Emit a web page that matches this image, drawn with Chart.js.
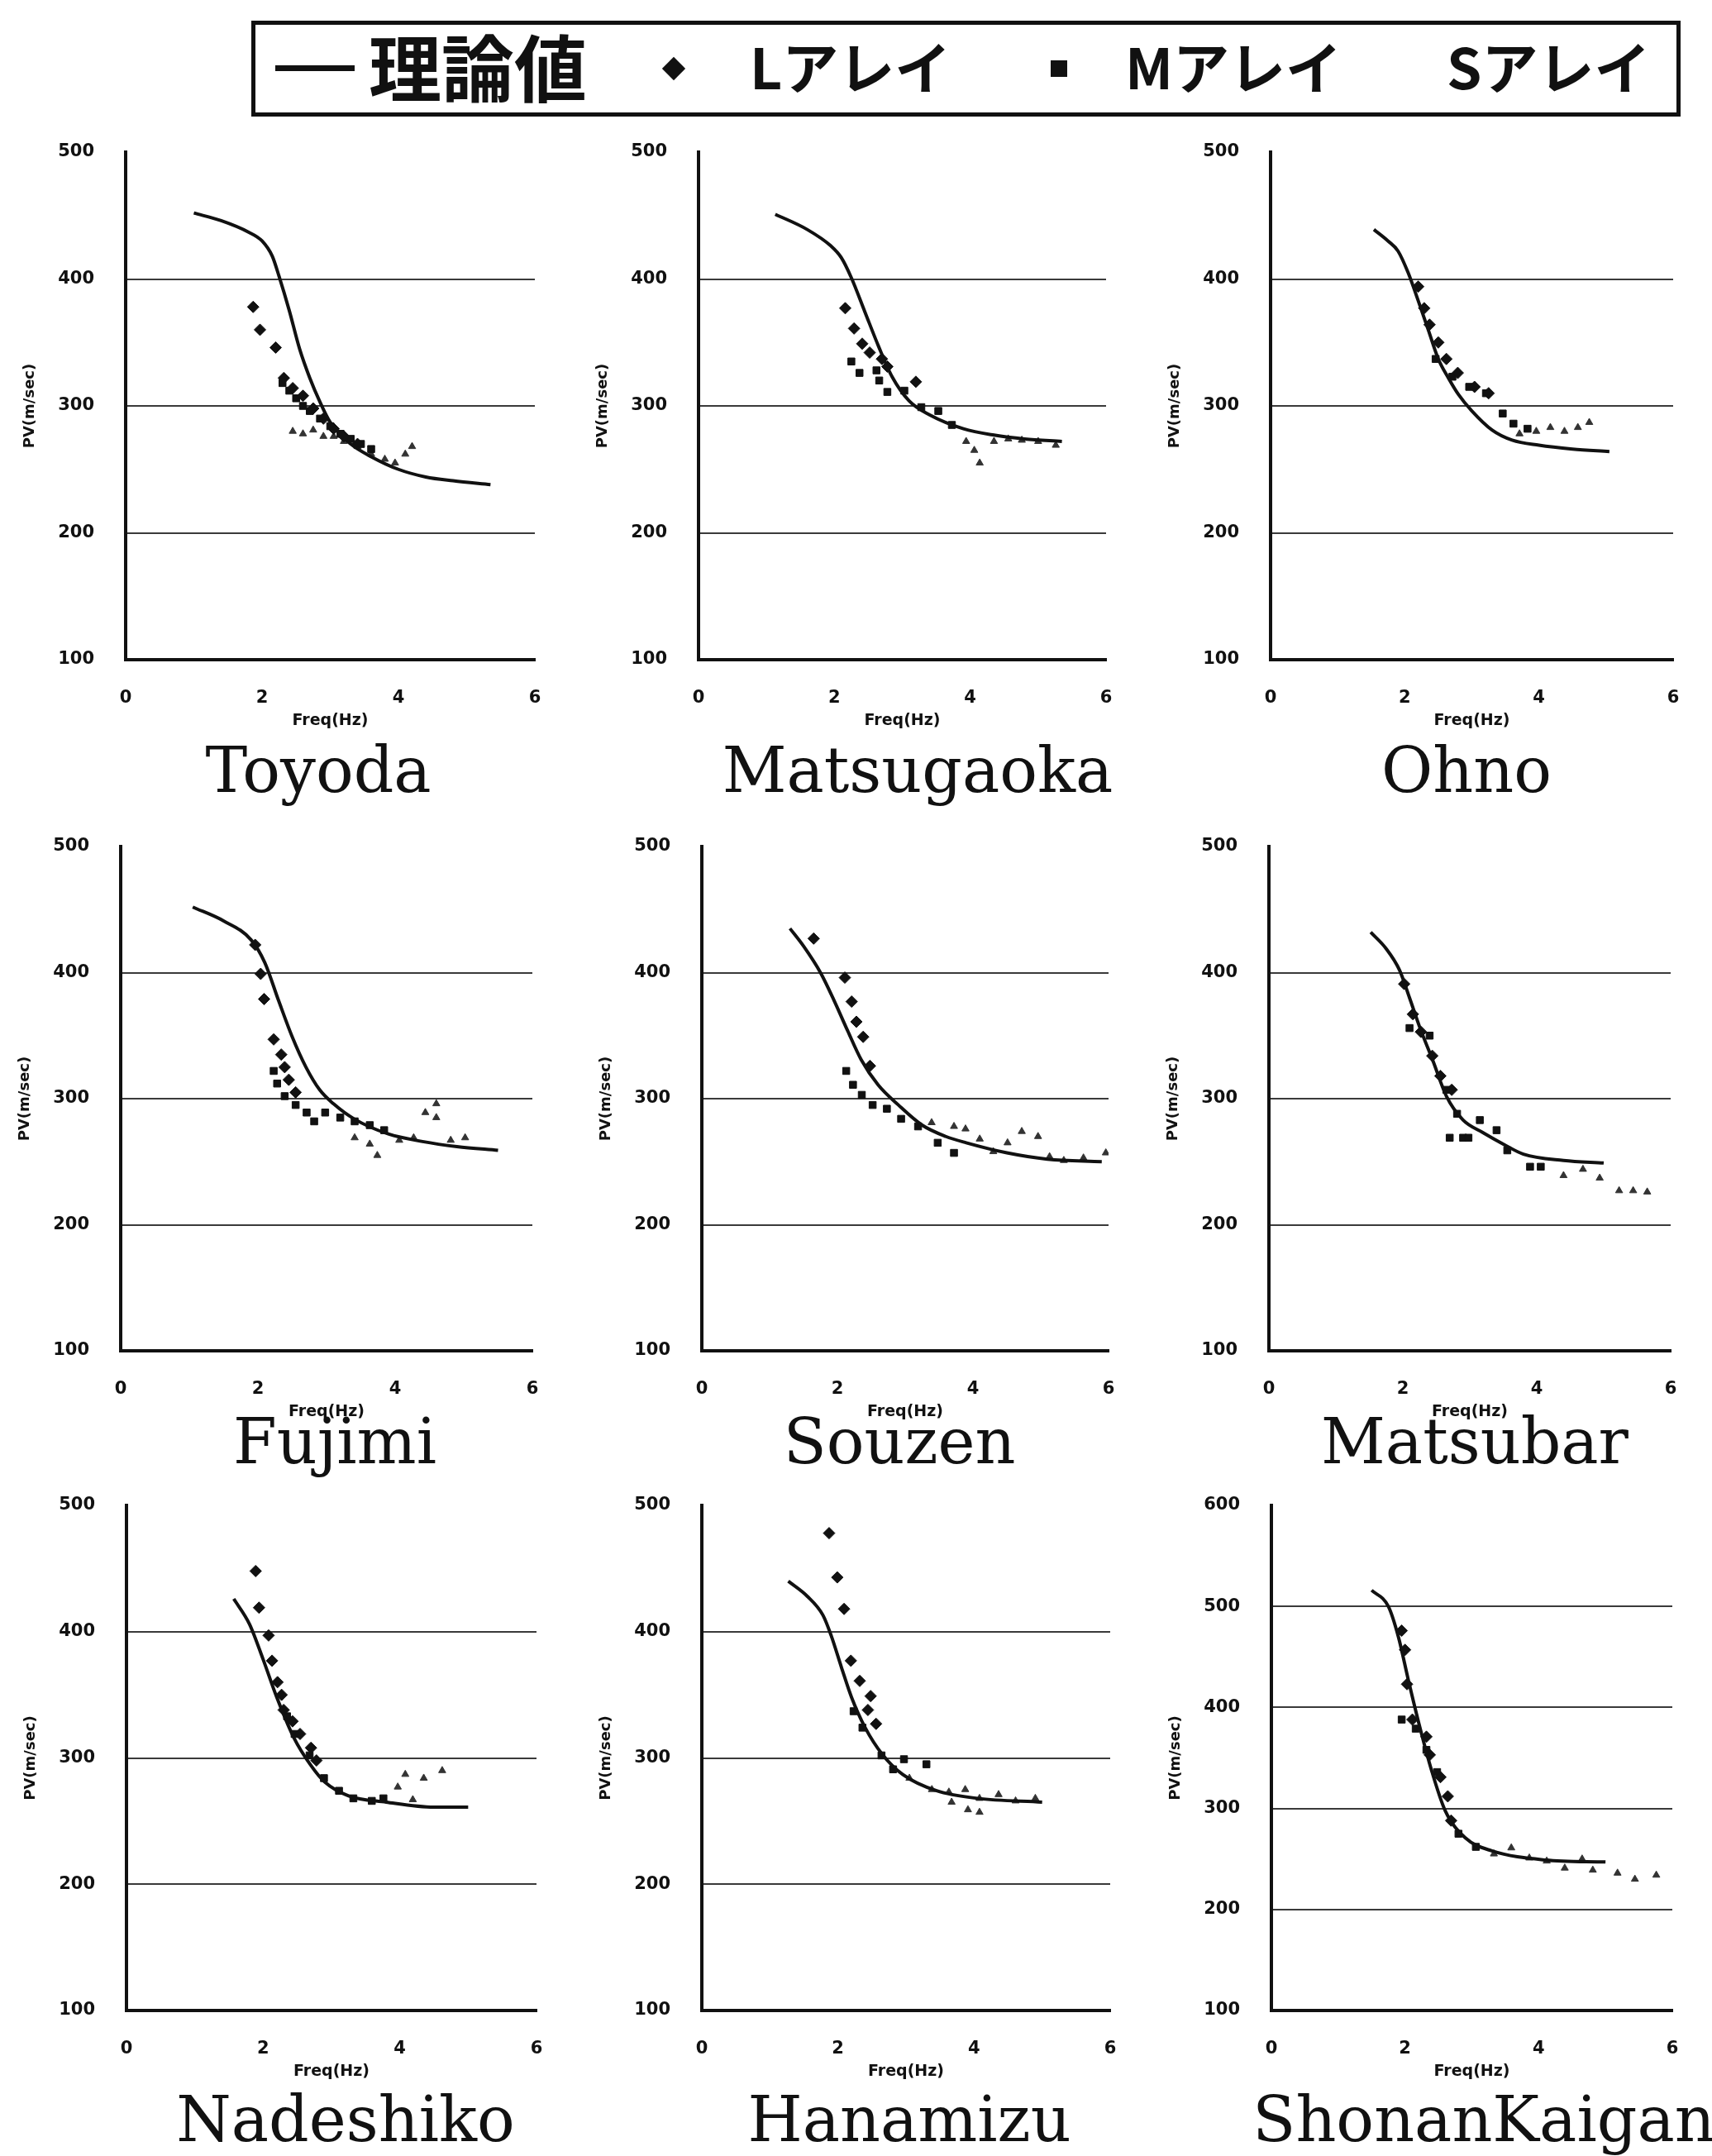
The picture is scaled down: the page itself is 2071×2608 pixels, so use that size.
<!DOCTYPE html>
<html>
<head>
<meta charset="utf-8">
<script src="https://cdn.jsdelivr.net/npm/chart.js@4/dist/chart.umd.min.js"></script>
<style>
html, body { margin: 0; padding: 0; background: #fff; }
#page { position: relative; width: 2071px; height: 2608px; overflow: hidden; background: #fff; }
#page canvas { position: absolute; }
.name { position: absolute; font-family: "DejaVu Serif", serif; font-size: 76px; line-height: 76px; color: #111; white-space: nowrap; transform: translateX(-50%); }
#legend { position: absolute; left: 304px; top: 25px; width: 1719px; height: 106px; border: 5px solid #111; }
.lg { position: absolute; font-family: "Noto Sans CJK JP", sans-serif; font-weight: bold; color: #111; white-space: nowrap; }
</style>
</head>
<body>
<div id="page">
  <div id="legend"></div>
  <div style="position:absolute;left:333px;top:79px;width:96px;height:7px;background:#111"></div>
  <div class="lg" style="left:446px;top:34px;font-size:88px;line-height:88px">理論値</div>
  <div style="position:absolute;left:805px;top:73px;width:20px;height:20px;background:#111;transform:rotate(45deg)"></div>
  <div class="lg" style="left:907px;top:45px;font-size:68px;line-height:68px">Lアレイ</div>
  <div style="position:absolute;left:1271px;top:73px;width:20px;height:20px;background:#111"></div>
  <div class="lg" style="left:1361px;top:45px;font-size:68px;line-height:68px">Mアレイ</div>
  <div class="lg" style="left:1750px;top:45px;font-size:68px;line-height:68px">Sアレイ</div>
</div>
<script>
// --- Data (Freq Hz, PV m/sec) ---
const stationNames = ['Toyoda', 'Matsugaoka', 'Ohno', 'Fujimi', 'Souzen', 'Matsubar', 'Nadeshiko', 'Hanamizu', 'ShonanKaigan'];
const xTicks = [0, 2, 4, 6];
const yTicks = [100, 200, 300, 400, 500];
const yTicksShonan = [100, 200, 300, 400, 500, 600];

const toyodaTheory = [[1.0,452],[1.4,446],[1.8,437],[2.0,430],[2.15,418],[2.25,402],[2.4,375],[2.55,345],[2.7,322],[2.85,303],[3.0,287],[3.3,270],[3.6,260],[4.0,250],[4.4,244],[4.8,241],[5.35,238]];
const toyodaL = [[1.87,378],[1.97,360],[2.2,346],[2.32,322],[2.45,314],[2.6,308],[2.75,298],[2.9,290],[3.05,282],[3.2,276],[3.4,270]];
const toyodaM = [[2.3,318],[2.4,312],[2.5,306],[2.6,300],[2.7,296],[2.85,290],[3.0,284],[3.15,278],[3.3,274],[3.45,270],[3.6,266]];
const toyodaS = [[2.45,280],[2.6,278],[2.75,281],[2.9,276],[3.05,276],[3.2,272],[3.4,268],[3.6,262],[3.8,258],[3.95,255],[4.1,262],[4.2,268]];

const matsugaokaTheory = [[1.13,451],[1.6,439],[1.95,426],[2.1,417],[2.25,401],[2.45,374],[2.65,347],[2.85,323],[3.1,304],[3.4,293],[3.9,282],[4.35,277],[4.8,274],[5.35,272]];
const matsugaokaL = [[2.16,377],[2.29,361],[2.41,349],[2.52,342],[2.7,337],[2.78,331],[3.2,319]];
const matsugaokaM = [[2.25,335],[2.37,326],[2.62,328],[2.66,320],[2.78,311],[3.03,312],[3.28,299],[3.53,296],[3.73,285]];
const matsugaokaS = [[3.94,272],[4.06,265],[4.14,255],[4.35,272],[4.56,274],[4.76,273],[5.0,272],[5.26,269]];

const ohnoTheory = [[1.54,439],[1.75,430],[1.9,422],[2.05,405],[2.2,383],[2.35,360],[2.5,337],[2.65,322],[2.8,309],[3.0,296],[3.3,281],[3.6,273],[4.0,269],[4.5,266],[5.05,264]];
const ohnoL = [[2.2,394],[2.29,377],[2.37,364],[2.5,350],[2.62,337],[2.79,326],[3.04,315],[3.25,310]];
const ohnoM = [[2.46,337],[2.71,323],[2.96,315],[3.21,310],[3.46,294],[3.62,286],[3.83,282]];
const ohnoS = [[3.71,278],[3.96,280],[4.17,283],[4.38,280],[4.58,283],[4.75,287]];

const fujimiTheory = [[1.05,452],[1.5,441],[1.9,426],[2.1,408],[2.3,378],[2.5,349],[2.7,325],[2.9,307],[3.1,296],[3.4,284],[3.9,272],[4.4,266],[4.9,262],[5.5,259]];
const fujimiL = [[1.96,422],[2.04,399],[2.09,379],[2.23,347],[2.34,335],[2.39,325],[2.45,315],[2.55,305]];
const fujimiM = [[2.23,322],[2.28,312],[2.39,302],[2.55,295],[2.71,289],[2.82,282],[2.98,289],[3.2,285],[3.41,282],[3.63,279],[3.84,275]];
const fujimiS = [[3.41,269],[3.63,264],[3.74,255],[4.06,267],[4.27,269],[4.44,289],[4.6,285],[4.6,296],[4.81,267],[5.02,269]];

const souzenTheory = [[1.3,435],[1.5,421],[1.75,400],[1.95,378],[2.15,354],[2.35,331],[2.6,311],[2.9,295],[3.25,279],[3.6,270],[3.9,265],[4.5,257],[5.1,252],[5.9,250]];
const souzenL = [[1.65,427],[2.11,396],[2.21,377],[2.28,361],[2.38,349],[2.48,326]];
const souzenM = [[2.13,322],[2.23,311],[2.36,303],[2.52,295],[2.73,292],[2.94,284],[3.19,278],[3.48,265],[3.72,257]];
const souzenS = [[3.39,281],[3.72,278],[3.89,276],[4.1,268],[4.3,258],[4.51,265],[4.72,274],[4.96,270],[5.13,254],[5.34,251],[5.63,253],[5.96,257]];

const matsubarTheory = [[1.52,432],[1.75,419],[1.95,402],[2.1,380],[2.25,357],[2.45,330],[2.65,302],[2.9,283],[3.2,273],[3.5,264],[3.8,256],[4.4,251],[5.0,249]];
const matsubarL = [[2.02,391],[2.15,367],[2.27,353],[2.44,334],[2.56,318],[2.73,307]];
const matsubarM = [[2.1,356],[2.4,350],[2.65,307],[2.7,269],[2.81,288],[2.9,269],[2.98,269],[3.15,283],[3.4,275],[3.56,259],[3.9,246],[4.06,246]];
const matsubarS = [[4.4,239],[4.69,244],[4.94,237],[5.23,227],[5.44,227],[5.65,226]];

const nadeshikoTheory = [[1.57,426],[1.8,406],[2.0,378],[2.2,348],[2.45,316],[2.7,294],[2.9,281],[3.25,270],[3.8,265],[4.5,261],[5.0,261]];
const nadeshikoL = [[1.89,448],[1.94,419],[2.08,397],[2.13,377],[2.21,360],[2.27,350],[2.3,338],[2.43,329],[2.54,319],[2.7,308],[2.78,298]];
const nadeshikoM = [[2.35,333],[2.46,319],[2.68,302],[2.89,284],[3.11,274],[3.32,268],[3.59,266],[3.76,268]];
const nadeshikoS = [[3.97,277],[4.08,287],[4.19,267],[4.35,284],[4.62,290]];

const hanamizuTheory = [[1.27,440],[1.55,428],[1.78,413],[1.9,397],[2.05,372],[2.2,348],[2.4,324],[2.65,303],[2.95,287],[3.45,274],[4.05,268],[5.0,265]];
const hanamizuL = [[1.87,478],[1.99,443],[2.09,418],[2.19,377],[2.32,361],[2.44,338],[2.48,349],[2.56,327]];
const hanamizuM = [[2.23,337],[2.36,324],[2.64,302],[2.81,291],[2.97,299],[3.3,295]];
const hanamizuS = [[3.05,284],[3.38,275],[3.63,273],[3.67,265],[3.87,275],[3.91,259],[4.08,268],[4.08,257],[4.36,271],[4.61,266],[4.9,268]];

const shonanTheory = [[1.5,516],[1.75,500],[1.9,470],[2.05,427],[2.2,386],[2.4,337],[2.6,298],[2.9,271],[3.3,258],[4.1,249],[5.0,247]];
const shonanL = [[1.95,476],[2.0,457],[2.03,423],[2.11,388],[2.32,371],[2.37,353],[2.53,331],[2.64,312],[2.69,288]];
const shonanM = [[1.95,388],[2.16,379],[2.32,358],[2.48,336],[2.8,275],[3.06,262]];
const shonanS = [[3.33,255],[3.59,261],[3.86,251],[4.12,248],[4.39,241],[4.65,250],[4.81,239],[5.18,236],[5.44,230],[5.76,234]];

const theorySeries = [toyodaTheory, matsugaokaTheory, ohnoTheory, fujimiTheory, souzenTheory, matsubarTheory, nadeshikoTheory, hanamizuTheory, shonanTheory];
const lSeries = [toyodaL, matsugaokaL, ohnoL, fujimiL, souzenL, matsubarL, nadeshikoL, hanamizuL, shonanL];
const mSeries = [toyodaM, matsugaokaM, ohnoM, fujimiM, souzenM, matsubarM, nadeshikoM, hanamizuM, shonanM];
const sSeries = [toyodaS, matsugaokaS, ohnoS, fujimiS, souzenS, matsubarS, nadeshikoS, hanamizuS, shonanS];
const yTickSets = [yTicks, yTicks, yTicks, yTicks, yTicks, yTicks, yTicks, yTicks, yTicksShonan];

// --- Layout of the 3x3 grid (plot area edges in page pixels) ---
const panels = [
  { x0: 152, x6: 647, top: 184, bottom: 798, cx: 385, base: 958 },
  { x0: 845, x6: 1338, top: 184, bottom: 798, cx: 1110, base: 958 },
  { x0: 1537, x6: 2024, top: 184, bottom: 798, cx: 1774, base: 958 },
  { x0: 146, x6: 644, top: 1024, bottom: 1634, cx: 405, base: 1770 },
  { x0: 849, x6: 1341, top: 1024, bottom: 1634, cx: 1088, base: 1770 },
  { x0: 1535, x6: 2021, top: 1024, bottom: 1634, cx: 1784, base: 1770 },
  { x0: 153, x6: 649, top: 1821, bottom: 2432, cx: 418, base: 2590 },
  { x0: 849, x6: 1343, top: 1821, bottom: 2432, cx: 1100, base: 2590 },
  { x0: 1538, x6: 2023, top: 1821, bottom: 2432, cx: 1795, base: 2590 }
];

const page = document.getElementById('page');
const toXY = arr => arr.map(([x, y]) => ({ x, y }));
const tickFont = { family: 'DejaVu Sans', weight: 'bold', size: 21 };
const xTitleFont = { family: 'DejaVu Sans', weight: 'bold', size: 19 };

function makePanel(p, i) {
  const yt = yTickSets[i];
  const ymin = yt[0], ymax = yt[yt.length - 1];
  const left = p.x0 - 140, top = p.top - 20;
  const canvas = document.createElement('canvas');
  canvas.width = p.x6 + 30 - left;
  canvas.height = p.bottom + 95 - top;
  canvas.style.left = left + 'px';
  canvas.style.top = top + 'px';
  page.appendChild(canvas);

  new Chart(canvas, {
    type: 'scatter',
    data: {
      datasets: [
        { label: '理論値', type: 'line', data: toXY(theorySeries[i]), borderColor: '#111', borderWidth: 4,
          pointRadius: 0, tension: 0.4, cubicInterpolationMode: 'monotone', fill: false },
        { label: 'Lアレイ', data: toXY(lSeries[i]), pointStyle: 'rectRot', pointRadius: 7,
          backgroundColor: '#111', borderColor: '#111', borderWidth: 1 },
        { label: 'Mアレイ', data: toXY(mSeries[i]), pointStyle: 'rect', pointRadius: 6,
          backgroundColor: '#111', borderColor: '#111', borderWidth: 1 },
        { label: 'Sアレイ', data: toXY(sSeries[i]), pointStyle: 'triangle', pointRadius: 5,
          backgroundColor: '#333', borderColor: '#333', borderWidth: 1 }
      ]
    },
    options: {
      responsive: false,
      animation: false,
      devicePixelRatio: 1,
      layout: { padding: { left: 0, top: 20, right: 30, bottom: 0 } },
      plugins: { legend: { display: false }, tooltip: { enabled: false } },
      scales: {
        x: {
          type: 'linear', min: xTicks[0], max: xTicks[xTicks.length - 1],
          afterBuildTicks: s => { s.ticks = xTicks.map(v => ({ value: v })); },
          ticks: { color: '#111', font: tickFont, padding: 26, maxRotation: 0 },
          grid: { display: false },
          border: { display: true, color: '#111', width: 4 },
          title: { display: true, text: 'Freq(Hz)', color: '#111', font: xTitleFont, padding: { top: 0, bottom: 10 } },
          // fixed box so every panel's plot area lands where the reference has it
          afterFit: s => { s.height = 95; s.paddingLeft = 0; s.paddingRight = 0; }
        },
        y: {
          type: 'linear', min: ymin, max: ymax,
          afterBuildTicks: s => { s.ticks = yt.map(v => ({ value: v })); },
          ticks: { color: '#111', font: tickFont, padding: 38 },
          grid: {
            drawTicks: false, lineWidth: 2,
            color: c => (c.tick && (c.tick.value === ymin || c.tick.value === ymax)) ? 'rgba(0,0,0,0)' : '#3a3a3a'
          },
          border: { display: true, color: '#111', width: 4 },
          title: { display: true, text: 'PV(m/sec)', color: '#111', font: { family: 'DejaVu Sans', weight: 'bold', size: 18 }, padding: { top: 14, bottom: 0 } },
          afterFit: s => { s.width = 140; s.paddingTop = 0; s.paddingBottom = 0; }
        }
      }
    }
  });

  const name = document.createElement('div');
  name.className = 'name';
  name.textContent = stationNames[i];
  name.style.left = p.cx + 'px';
  name.style.top = (p.base - 64) + 'px';
  page.appendChild(name);
}

panels.forEach(makePanel);
</script>
</body>
</html>
